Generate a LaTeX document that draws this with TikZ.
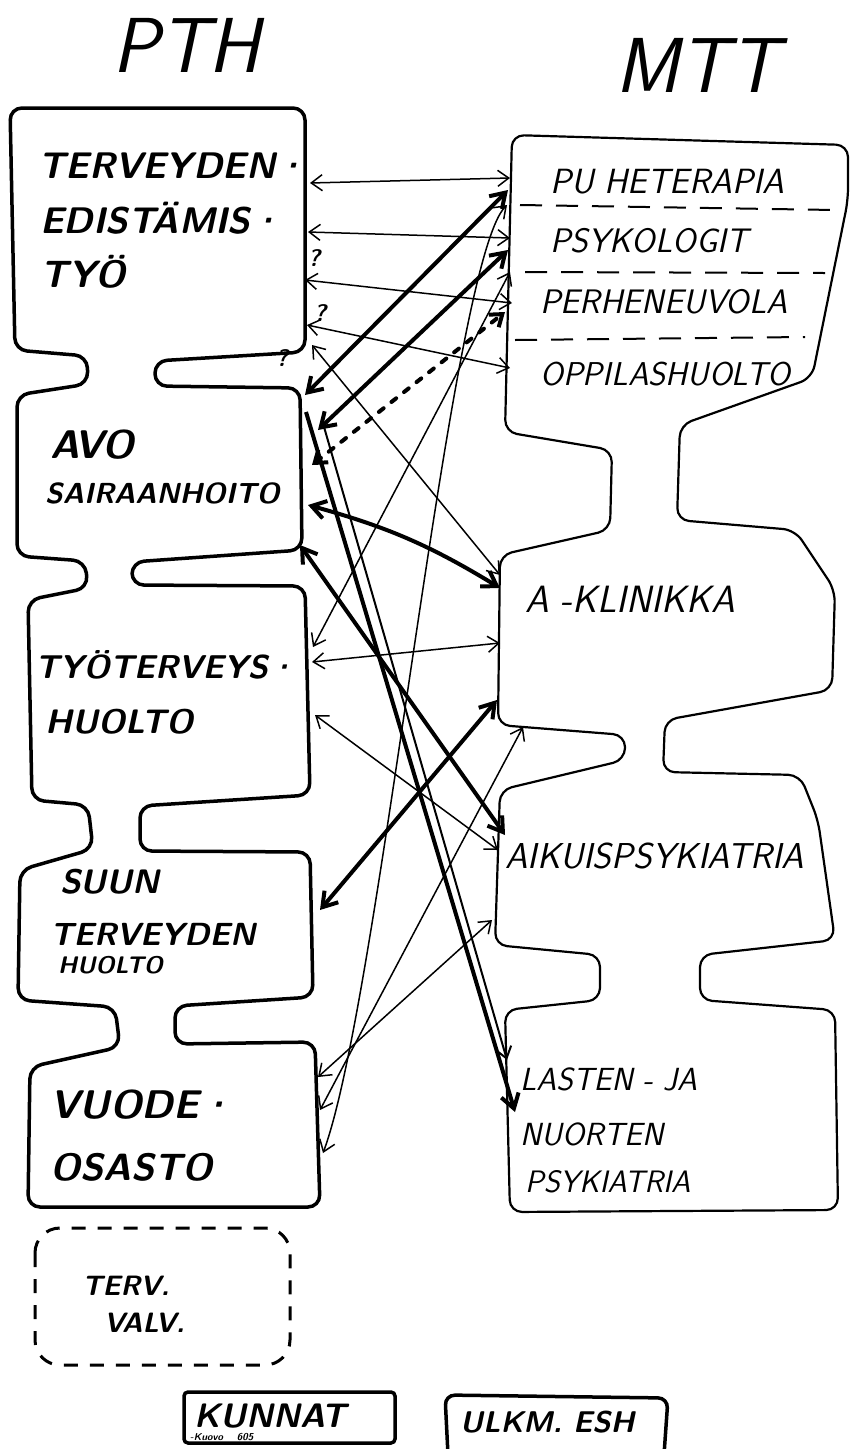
\documentclass[tikz,border=0pt]{standalone}
\usepackage{tikz}
\usetikzlibrary{arrows.meta}

\newcommand{\hs}[1]{\fontsize{#1}{#1}\selectfont\sffamily\slshape}
\newcommand{\hb}[1]{\fontsize{#1}{#1}\selectfont\sffamily\bfseries\slshape}

\begin{document}
\begin{tikzpicture}[x=1pt,y=-1pt,>={Straight Barb[length=11pt,width=16pt]},
      pth/.style={line width=3.5pt,rounded corners=12pt},
      mtt/.style={line width=2.2pt,rounded corners=12pt},
      lab/.style={anchor=base west,inner sep=0pt},
      ln/.style={<->,line width=1.5pt},
      fat/.style={<->,line width=4pt,>={Straight Barb[length=14pt,width=18pt]}},
      dots/.style={<->,line width=4pt,dash pattern=on 6pt off 10pt,line cap=round}]
			\useasboundingbox (0,0) rectangle (851,1449);
			% headings
			\node[lab,font=\hs{78}] (h-pth) at (112,72) {PTH};
			\node[lab,font=\hs{78}] (h-mtt) at (615,92) {MTT};
			% PTH column
			\draw[pth] (10,108) -- (305,108) -- (305,352) -- (155,361) -- (155,386)
				-- (300,388) -- (302,550) -- (132,562) -- (132,585) -- (305,586)
				-- (310,795) -- (140,806) -- (140,851) -- (310,852) -- (313,997)
				-- (175,1006) -- (175,1044) -- (315,1042) -- (320,1207) -- (28,1207)
				-- (30,1067) -- (120,1047) -- (115,1007) -- (18,1000) -- (20,870)
				-- (93,849) -- (88,805) -- (32,800) -- (28,600) -- (88,588)
				-- (85,561) -- (17,556) -- (17,395) -- (88,384) -- (87,356)
				-- (15,350) -- cycle;
			\node[lab,font=\hb{37}] (ter-1) at (38,178) {TERVEYDEN·};
			\node[lab,font=\hb{37}] (ter-2) at (40,233) {EDISTÄMIS·};
			\node[lab,font=\hb{38}] (ter-3) at (40,287) {TYÖ};
			\node[lab,font=\hb{40}] (avo-1) at (50,458) {AVO};
			\node[lab,font=\hb{29}] (avo-2) at (45,503) {SAIRAANHOITO};
			\node[lab,font=\hb{33}] (tyo-1) at (35,678) {TYÖTERVEYS·};
			\node[lab,font=\hb{34}] (tyo-2) at (45,733) {HUOLTO};
			\node[lab,font=\hb{34}] (suu-1) at (60,893) {SUUN};
			\node[lab,font=\hb{32}] (suu-2) at (50,945) {TERVEYDEN};
			\node[lab,font=\hb{24}] (suu-3) at (58,973) {HUOLTO};
			\node[lab,font=\hb{40}] (vuo-1) at (50,1118) {VUODE·};
			\node[lab,font=\hb{38}] (vuo-2) at (50,1180) {OSASTO};
			% MTT column
			\draw[mtt] (512,135) -- (848,145) -- (848,200) -- (812,378) -- (680,425)
				-- (677,520) -- (795,530) -- (835,590) -- (832,690) -- (665,720)
				-- (663,772) -- (800,775) -- (818,820) -- (835,940) -- (700,955)
				-- (700,1000) -- (835,1010) -- (838,1210) -- (510,1212) -- (505,1010)
				-- (600,1000) -- (600,955) -- (495,945) -- (500,790) -- (625,760)
				-- (625,735) -- (498,725) -- (500,555) -- (610,530) -- (612,450)
				-- (505,432) -- cycle;
			\draw[line width=2pt,dash pattern=on 22pt off 14pt] (520,205) -- (835,210);
			\draw[line width=2pt,dash pattern=on 22pt off 14pt] (525,272) -- (825,273);
			\draw[line width=2pt,dash pattern=on 22pt off 14pt] (515,340) -- (805,337);
			\node[lab,font=\hs{35}] (puh) at (550,193) {PU HETERAPIA};
			\node[lab,font=\hs{34}] (psy) at (550,252) {PSYKOLOGIT};
			\node[lab,font=\hs{34}] (per) at (540,313) {PERHENEUVOLA};
			\node[lab,font=\hs{33}] (opp) at (540,385) {OPPILASHUOLTO};
			\node[lab,font=\hs{38}] (akl) at (525,612) {A -KLINIKKA};
			\node[lab,font=\hs{36}] (aik) at (505,868) {AIKUISPSYKIATRIA};
			\node[lab,font=\hs{32}] (las-1) at (520,1090) {LASTEN - JA};
			\node[lab,font=\hs{32}] (las-2) at (520,1145) {NUORTEN};
			\node[lab,font=\hs{31}] (las-3) at (525,1192) {PSYKIATRIA};
			% question marks
			\node[font=\hb{24}] (q1) at (314,258) {?};
			\node[font=\hb{24}] (q2) at (320,313) {?};
			\node[font=\hb{24}] (q3) at (282,358) {?};
			% end points
			\coordinate (t1) at (310,183);
			\coordinate (t2) at (308,232);
			\coordinate (t3) at (305,280);
			\coordinate (t4) at (307,325);
			\coordinate (t5) at (312,345);
			\coordinate (a1) at (305,395);
			\coordinate (a2) at (318,430);
			\coordinate (a3) at (312,465);
			\coordinate (a4) at (308,505);
			\coordinate (a5) at (300,545);
			\coordinate (a6) at (322,420);
			\coordinate (a7) at (306,412);
			\coordinate (y1) at (313,647);
			\coordinate (y2) at (312,662);
			\coordinate (y3) at (315,715);
			\coordinate (s1) at (320,910);
			\coordinate (v1) at (318,1077);
			\coordinate (v2) at (320,1110);
			\coordinate (v3) at (323,1153);
			\coordinate (p1) at (510,178);
			\coordinate (p2) at (508,190);
			\coordinate (k1) at (510,238);
			\coordinate (k2) at (508,250);
			\coordinate (k3) at (510,272);
			\coordinate (k4) at (507,205);
			\coordinate (f1) at (512,303);
			\coordinate (f2) at (505,312);
			\coordinate (o1) at (510,368);
			\coordinate (l1) at (500,575);
			\coordinate (l2) at (500,588);
			\coordinate (l3) at (500,643);
			\coordinate (l4) at (497,700);
			\coordinate (l5) at (523,727);
			\coordinate (i1) at (505,835);
			\coordinate (i2) at (498,850);
			\coordinate (i3) at (492,920);
			\coordinate (n1) at (507,1060);
			\coordinate (n2) at (515,1112);
			% connectors
			\draw[ln] (t1) -- (p1);
			\draw[ln] (t2) -- (k1);
			\draw[ln] (t3) -- (f1);
			\draw[ln] (t4) -- (o1);
			\draw[ln] (t5) -- (l1);
			\draw[ln] (y1) -- (k3);
			\draw[ln] (y2) -- (l3);
			\draw[ln] (y3) -- (i2);
			\draw[ln] (v1) -- (i3);
			\draw[ln] (v2) -- (l5);
			\draw[ln] (v3) .. controls (380,1000) and (450,260) .. (k4);
			\draw[->,line width=2pt] (a6) -- (n1);
			\draw[fat] (a1) -- (p2);
			\draw[fat] (a2) -- (k2);
			\draw[fat] (a4) to[bend left=8] (l2);
			\draw[fat] (s1) -- (l4);
			\draw[fat] (a5) -- (i1);
			\draw[fat,<-] (n2) -- (a7);
			\draw[dots] (a3) -- (f2);
			% lower boxes
			\draw[line width=3pt,dash pattern=on 14pt off 12pt,rounded corners=25pt]
				(35,1228) rectangle (290,1365);
			\node[lab,font=\hb{28}] (terv) at (82,1295) {TERV.};
			\node[lab,font=\hb{28}] (valv) at (104,1332) {VALV.};
			\draw[line width=3.5pt,rounded corners=4pt] (184,1392) rectangle (395,1443);
			\node[lab,font=\hb{34}] (kun) at (194,1427) {KUNNAT};
			\node[lab,font=\hb{10}] (kun-2) at (190,1440) {-Kuovo \quad 605};
			\draw[line width=3.5pt,rounded corners=10pt] (448,1455) -- (445,1395) -- (668,1398) -- (664,1455);
			\node[lab,font=\hb{30}] (ulk) at (460,1432) {ULKM. ESH};
		\end{tikzpicture}
\end{document}
